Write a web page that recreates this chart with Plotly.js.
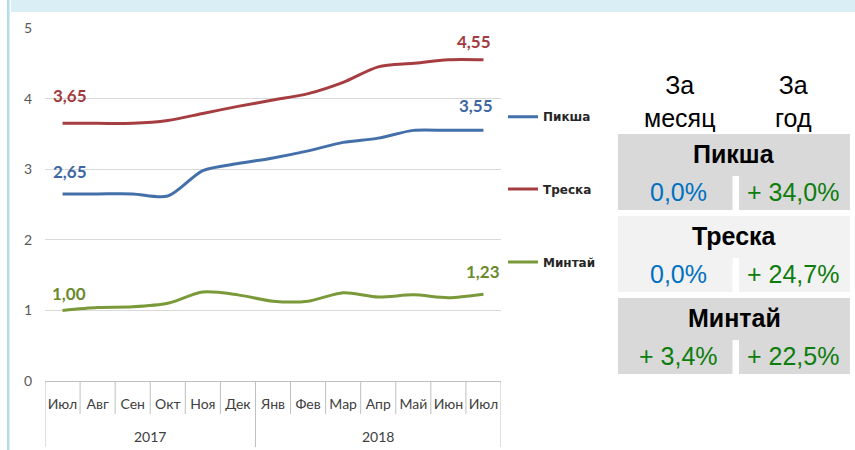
<!DOCTYPE html>
<html><head><meta charset="utf-8">
<script src="https://cdn.plot.ly/plotly-3.0.1.min.js"></script>
<style>html,body{margin:0;padding:0;background:#fff}#chart{width:855px;height:450px}</style>
</head><body><div id="chart"></div>
<script>
// ---- data ----
const months = ['Июл','Авг','Сен','Окт','Ноя','Дек','Янв','Фев','Мар','Апр','Май','Июн','Июл'];
const years = ['2017','2018'];
const yearSpans = [6, 7];
const seriesNames = ['Пикша','Треска','Минтай'];
const pikshaValues = [2.65,2.65,2.65,2.62,2.98,3.08,3.16,3.26,3.38,3.44,3.55,3.55,3.55];
const treskaValues = [3.65,3.65,3.65,3.69,3.79,3.89,3.98,4.07,4.23,4.45,4.50,4.55,4.55];
const mintaiValues = [1.00,1.04,1.05,1.10,1.26,1.22,1.13,1.13,1.25,1.19,1.22,1.18,1.23];
const yTicks = [0,1,2,3,4,5];
const tableHeaders = [['За','месяц'],['За','год']];
const monthChange = ['0,0%','0,0%','+ 3,4%'];
const yearChange = ['+ 34,0%','+ 24,7%','+ 22,5%'];

// ---- styles / positions ----
const seriesValues = [pikshaValues, treskaValues, mintaiValues];
const lineColors = ['#4470AA','#A63D40','#7A9A3A'];
const labelColors = ['#3D66A3','#A33B3E','#6A8A2C'];
const startShift = [[7,22],[7,28],[6,17]];
const endShift = [[-7,25],[-9,18],[0,23]];
const legendY = [116.7, 189, 262];
const blockFill = ['#D9D9D9','#F2F2F2','#D9D9D9'];
const L=45, R=501, T=28, B=381;
const px = x => (x-L)/(R-L);
const py = y => (B-y)/(B-T);
const xIdx = months.map((_, i) => i);
const fmt = v => v.toFixed(2).replace('.', ',');

const traces = seriesNames.map((n, k) => ({
  type:'scatter', mode:'lines', name:n, x:xIdx, y:seriesValues[k],
  line:{color:lineColors[k], width:3, shape:'spline', smoothing:0.8},
  legend: k===0 ? 'legend' : 'legend'+(k+1), hoverinfo:'skip'
}));

const shapes = [];
const annotations = [];
const ann = (o) => annotations.push(Object.assign({showarrow:false, xanchor:'center', yanchor:'middle'}, o));
// decorative frame
shapes.push({type:'rect', xref:'paper', yref:'paper', x0:px(11), x1:px(855), y0:py(12), y1:py(0), fillcolor:'#DAEEF5', line:{width:0}, layer:'below'});
shapes.push({type:'rect', xref:'paper', yref:'paper', x0:px(7), x1:px(9.5), y0:py(450), y1:py(0), fillcolor:'#B4DCEB', line:{width:0}, layer:'below'});

// month separators + year separators
let yearBounds = [0]; yearSpans.reduce((a,s)=>{yearBounds.push(a+s); return a+s;},0);
for (let i = 0; i <= months.length; i++) {
  const isYear = yearBounds.includes(i);
  shapes.push({type:'line', xref:'x', yref:'paper', x0:i-0.5, x1:i-0.5, y0:py(381), y1:py(isYear?447:414), line:{color:'#BFBFBF', width:1}});
}
years.forEach((yr, j) => {
  const c = (yearBounds[j] + yearBounds[j+1] - 1) / 2;
  ann({xref:'x', yref:'paper', x:c, y:py(436), text:yr, font:{family:'Lato', size:14, color:'#404040'}});
});

// data labels
seriesValues.forEach((vals, k) => {
  const n = vals.length-1;
  ann({xref:'x', yref:'y', x:0, y:vals[0], text:fmt(vals[0]), xshift:startShift[k][0], yshift:startShift[k][1], font:{family:'Lato', size:17, color:labelColors[k], weight:'bold'}});
  ann({xref:'x', yref:'y', x:n, y:vals[n], text:fmt(vals[n]), xshift:endShift[k][0], yshift:endShift[k][1], font:{family:'Lato', size:17, color:labelColors[k], weight:'bold'}});
});

// table
const tfont = 'Liberation Sans, Arial, sans-serif';
ann({xref:'paper', yref:'paper', x:px(679), y:py(101), text:tableHeaders[0].join('<br>'), font:{family:tfont, size:25, color:'#000'}});
ann({xref:'paper', yref:'paper', x:px(793), y:py(101), text:tableHeaders[1].join('<br>'), font:{family:tfont, size:25, color:'#000'}});
seriesNames.forEach((n, k) => {
  const top = 134 + 82*k;
  shapes.push({type:'rect', xref:'paper', yref:'paper', x0:px(618), x1:px(850), y0:py(top+42), y1:py(top), fillcolor:blockFill[k], line:{width:0}});
  shapes.push({type:'rect', xref:'paper', yref:'paper', x0:px(618), x1:px(732.5), y0:py(top+76), y1:py(top+42), fillcolor:blockFill[k], line:{width:0}});
  shapes.push({type:'rect', xref:'paper', yref:'paper', x0:px(739), x1:px(850), y0:py(top+76), y1:py(top+42), fillcolor:blockFill[k], line:{width:0}});
  ann({xref:'paper', yref:'paper', x:px(734), y:py(top+20), text:n, font:{family:tfont, size:25, color:'#000', weight:'bold'}});
  const mc = monthChange[k];
  ann({xref:'paper', yref:'paper', x:px(678), y:py(top+58), text:mc, font:{family:tfont, size:25, color: mc.startsWith('+') ? '#0E7D0E' : '#0070C0'}});
  const yc = yearChange[k];
  ann({xref:'paper', yref:'paper', x:px(793), y:py(top+58), text:yc, font:{family:tfont, size:25, color: yc.startsWith('+') ? '#0E7D0E' : '#0070C0'}});
});

const legendBase = (yy) => ({x:px(503), xanchor:'left', y:py(yy), yanchor:'middle', bgcolor:'rgba(0,0,0,0)', font:{family:'DejaVu Sans', size:12, color:'#262626', weight:'bold'}, itemwidth:30});

const layout = {
  width:855, height:450,
  margin:{l:L, r:855-R, t:T, b:450-B},
  paper_bgcolor:'#fff', plot_bgcolor:'#fff',
  showlegend:true,
  legend: legendBase(legendY[0]),
  legend2: legendBase(legendY[1]),
  legend3: legendBase(legendY[2]),
  xaxis:{range:[-0.5, months.length-0.5], tickvals:xIdx, ticktext:months, showgrid:false, zeroline:false,
         showline:true, linecolor:'#BFBFBF', linewidth:1, ticks:'', ticklabelstandoff:10,
         tickfont:{family:'Lato', size:14, color:'#404040'}, fixedrange:true},
  yaxis:{range:[0,5], tickvals:yTicks, showgrid:true, gridcolor:'#D9D9D9', gridwidth:1, zeroline:false, showline:false,
         ticks:'', ticklabelstandoff:12, tickfont:{family:'Lato', size:14, color:'#595959'}, fixedrange:true},
  shapes, annotations
};
Plotly.newPlot('chart', traces, layout, {staticPlot:true, displayModeBar:false});
</script></body></html>
